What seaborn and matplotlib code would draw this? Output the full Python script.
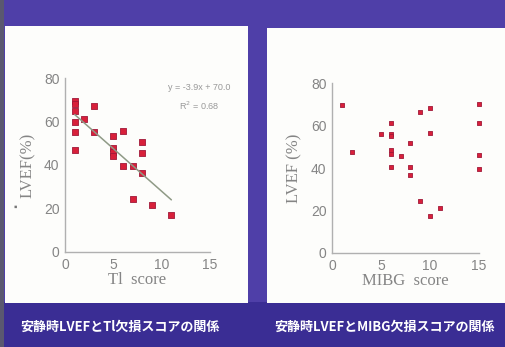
import numpy as np
import pandas as pd
import seaborn as sns
import matplotlib.pyplot as plt
from matplotlib.patches import Rectangle

# Tl score vs LVEF (left panel)
tl_score = [1, 1, 1, 1, 1, 1, 2, 3, 3, 5, 5, 5, 5, 6, 6, 7, 7, 8, 8, 8, 9, 11]
tl_lvef = [69.5, 68, 65, 60, 55, 47, 61, 67, 55, 53.5, 48, 46, 44, 55.7, 39.5, 39.5, 24.3, 50.5, 45.4, 36.5, 21.4, 17]

# MIBG score vs LVEF (right panel)
mibg_score = [1, 2, 5, 6, 6, 6, 6, 6, 6, 7, 8, 8, 8, 9, 9, 10, 10, 10, 11, 15, 15, 15, 15]
mibg_lvef = [69.6, 47.7, 56, 61, 56, 55, 48.6, 46.6, 40.3, 45.5, 51.6, 40.3, 36.9, 66.4, 24.6, 68.4, 56.6, 17.4, 21.4, 70, 61, 46, 39.6]

titles = ['安静時LVEFとTl欠損スコアの関係', '安静時LVEFとMIBG欠損スコアの関係']
fit_text = 'y = -3.9x + 70.0\nR$^2$ = 0.68'

sns.set_style('white')
plt.rcParams['font.family'] = ['Liberation Sans', 'DejaVu Sans']

fig = plt.figure(figsize = (5.06, 3.47), dpi = 100)
fig.patch.set_facecolor('#4f3fa8')

# darker band at the bottom and the white slide panels
fig.patches.append(Rectangle((0, 0), 1, 0.13, transform = fig.transFigure, facecolor = '#3a2d94', edgecolor = 'none', zorder = -3))
fig.patches.append(Rectangle((0, 0), 0.008, 1, transform = fig.transFigure, facecolor = '#5a5870', edgecolor = 'none', zorder = -3))
fig.patches.append(Rectangle((0.0099, 0.127), 0.480, 0.798, transform = fig.transFigure, facecolor = '#fdfdfb', edgecolor = 'none', zorder = -2))
fig.patches.append(Rectangle((0.5277, 0.127), 0.4723, 0.793, transform = fig.transFigure, facecolor = '#fdfdfb', edgecolor = 'none', zorder = -2))

ax1 = fig.add_axes([0.1285, 0.2738, 0.2866, 0.5014])
ax2 = fig.add_axes([0.6561, 0.2709, 0.2905, 0.4899])
ax1.set_zorder(2)
ax2.set_zorder(2)

red = '#d8203a'
gray = '#858585'

left = pd.DataFrame({'score': tl_score, 'lvef': tl_lvef})
right = pd.DataFrame({'score': mibg_score, 'lvef': mibg_lvef})

sns.scatterplot(data = left, x = 'score', y = 'lvef', ax = ax1, marker = 's', s = 15, color = red, edgecolor = '#a01838', linewidth = 0.6, zorder = 2, clip_on = False)
sns.regplot(data = left, x = 'score', y = 'lvef', ax = ax1, scatter = False, ci = None, line_kws = {'color': '#8f9a86', 'linewidth': 1.1, 'zorder': 3})
ax1.text(13.9, 71, fit_text, fontsize = 6.5, color = '#999999', ha = 'center', va = 'center', linespacing = 1.7)

sns.scatterplot(data = right, x = 'score', y = 'lvef', ax = ax2, marker = 's', s = 12, color = red, edgecolor = '#a01838', linewidth = 0.6, zorder = 2, clip_on = False)

for ax, xlab, ylab in [(ax1, 'Tl  score', 'LVEF(%)'), (ax2, 'MIBG  score', 'LVEF (%)')]:
  ax.set_facecolor('none')
  ax.set_xlim(0, 15)
  ax.set_ylim(0, 80)
  ax.set_xticks([0, 5, 10, 15])
  ax.set_yticks([0, 20, 40, 60, 80])
  ax.tick_params(length = 0, labelsize = 10, labelcolor = gray, pad = 4)
  ax.set_xlabel(xlab, fontsize = 12, color = gray, family = 'Liberation Serif', labelpad = 0)
  ax.set_ylabel(ylab, fontsize = 12, color = gray, family = 'Liberation Serif', labelpad = 6)
  for side in ['top', 'right']:
    ax.spines[side].set_visible(False)
  for side in ['left', 'bottom']:
    ax.spines[side].set_color('#b0b0b0')
    ax.spines[side].set_linewidth(1)

# small bullet on the left slide
fig.text(0.03, 0.405, '▪', fontsize = 7, color = '#777777', ha = 'center', va = 'center')

# captions in the bottom band
fig.text(0.04, 0.058, titles[0], fontsize = 9.4, color = 'white', fontweight = 'bold', family = ['Noto Sans CJK JP', 'DejaVu Sans'], va = 'center')
fig.text(0.543, 0.058, titles[1], fontsize = 9.4, color = 'white', fontweight = 'bold', family = ['Noto Sans CJK JP', 'DejaVu Sans'], va = 'center')

fig.savefig('out.png', dpi = 100, facecolor = fig.get_facecolor())
